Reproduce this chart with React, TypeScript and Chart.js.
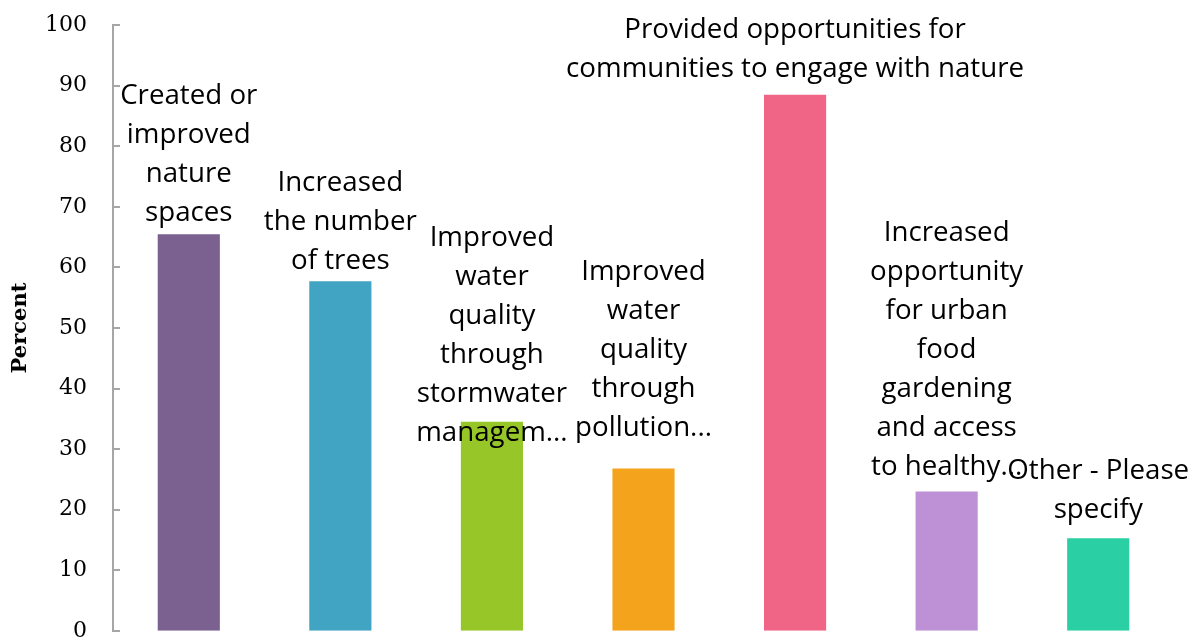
import React, { useEffect, useRef } from "react";
import { Chart, registerables } from "chart.js";

Chart.register(...registerables);

const categories: string[][] = [
  ["Created or", "improved", "nature", "spaces"],
  ["Increased", "the number", "of trees"],
  ["Improved", "water", "quality", "through", "stormwater", "managem..."],
  ["Improved", "water", "quality", "through", "pollution..."],
  ["Provided opportunities for", "communities to engage with nature"],
  ["Increased", "opportunity", "for urban", "food", "gardening", "and access", "to healthy..."],
  ["Other - Please", "specify"],
];

const percentValues: number[] = [65.5, 57.7, 34.5, 26.8, 88.5, 23.0, 15.3];

const barColors: string[] = [
  "#7B6190",
  "#41A4C3",
  "#96C628",
  "#F4A41C",
  "#F06586",
  "#BE90D6",
  "#2BCFA4",
];

const yTicks: number[] = [0, 10, 20, 30, 40, 50, 60, 70, 80, 90, 100];

// distance (px) from bar top to the centre of the label's last line
const labelOffsets: number[] = [21, 20, -11, 40, 26, 24, 28];

const LABEL_FONT = "27.7px 'Open Sans'";
const LABEL_LINE = 39;

const barLabelPlugin = {
  id: "barLabels",
  afterDatasetsDraw(chart: any) {
    const ctx = chart.ctx;
    const meta = chart.getDatasetMeta(0);
    ctx.save();
    ctx.font = LABEL_FONT;
    ctx.fillStyle = "#000000";
    ctx.textAlign = "center";
    ctx.textBaseline = "middle";
    meta.data.forEach((bar: any, i: number) => {
      const lines = categories[i];
      const lastY = bar.y - labelOffsets[i];
      lines.forEach((line, k) => {
        const y = lastY - (lines.length - 1 - k) * LABEL_LINE;
        ctx.fillText(line, bar.x, y);
      });
    });
    ctx.restore();
  },
};

const axisPlugin = {
  id: "axisTicksInside",
  afterDraw(chart: any) {
    const ctx = chart.ctx;
    const y = chart.scales.y;
    const left = chart.chartArea.left;
    ctx.save();
    ctx.strokeStyle = "#A6A6A6";
    ctx.lineWidth = 2;
    ctx.beginPath();
    ctx.moveTo(left, y.getPixelForValue(100));
    ctx.lineTo(left, y.getPixelForValue(0));
    yTicks.forEach((t) => {
      const py = Math.round(y.getPixelForValue(t));
      ctx.moveTo(left - 1, py);
      ctx.lineTo(left + 7, py);
    });
    ctx.stroke();
    ctx.restore();
  },
};

export default function App() {
  const canvasRef = useRef<HTMLCanvasElement | null>(null);

  useEffect(() => {
    if (!canvasRef.current) return;
    const chart = new Chart(canvasRef.current, {
      type: "bar",
      data: {
        labels: categories.map((c) => c.join(" ")),
        datasets: [
          {
            data: percentValues,
            backgroundColor: barColors,
            borderWidth: 0,
            barPercentage: 0.41,
            categoryPercentage: 1,
          },
        ],
      },
      options: {
        animation: false,
        responsive: false,
        devicePixelRatio: 1,
        layout: { padding: { top: 11, right: 23, bottom: 0, left: 0 } },
        plugins: {
          legend: { display: false },
          tooltip: { enabled: false },
        },
        scales: {
          x: { display: false },
          y: {
            min: 0,
            max: 100,
            afterFit: (scale: any) => {
              scale.width = 113;
            },
            afterBuildTicks: (scale: any) => {
              scale.ticks = yTicks.map((v) => ({ value: v }));
            },
            grid: { display: false, drawTicks: false },
            border: { display: false },
            ticks: {
              padding: 26,
              color: "#000000",
              font: { family: "'DejaVu Serif'", size: 22 },
            },
            title: {
              display: true,
              text: "Percent",
              color: "#000000",
              font: { family: "'DejaVu Serif'", size: 21, weight: "bold" },
              padding: { top: 8, bottom: 0 },
            },
          },
        },
      },
      plugins: [barLabelPlugin, axisPlugin],
    });
    return () => chart.destroy();
  }, []);

  return (
    <div
      style={{
        position: "fixed",
        left: 0,
        top: 0,
        width: 1197,
        height: 639,
        overflow: "hidden",
        background: "#ffffff",
      }}
    >
      <canvas
        ref={canvasRef}
        width={1197}
        height={684}
        style={{ display: "block", marginTop: -14 }}
      />
    </div>
  );
}
